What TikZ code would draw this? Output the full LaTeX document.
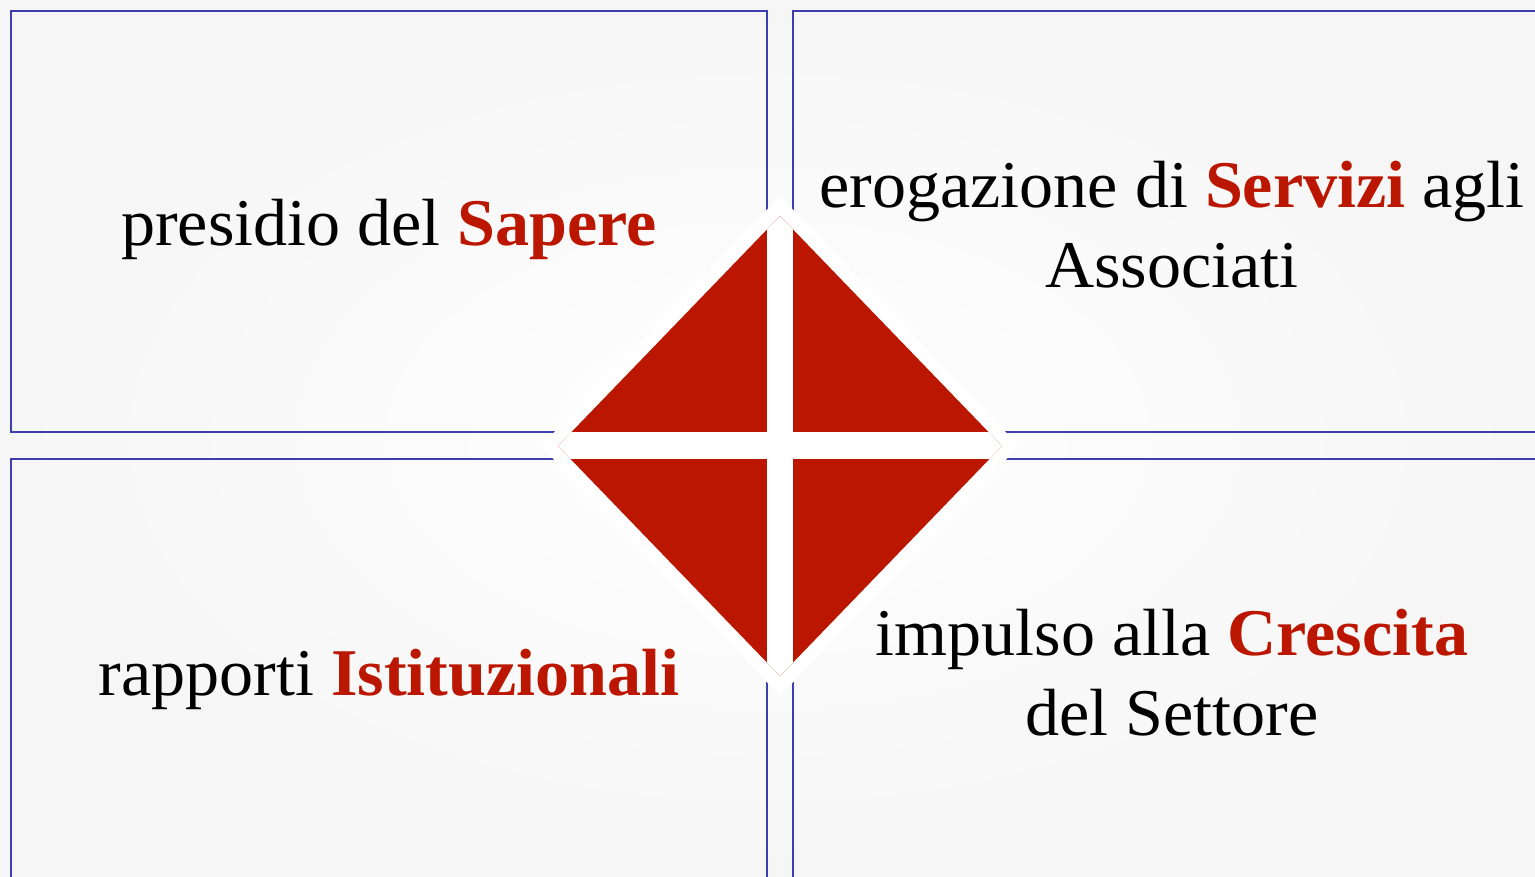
\documentclass[tikz,border=0pt]{standalone}
\usepackage{fontspec}
\setmainfont{Liberation Serif}[FakeStretch=1.02]
\definecolor{boxblue}{RGB}{62,62,172}
\definecolor{kwred}{RGB}{187,22,0}
\definecolor{pagegray}{RGB}{246,246,246}
\newcommand{\kw}[1]{\textbf{\color{kwred}#1}}

\begin{document}
\begin{tikzpicture}[x=0.02cm,y=-0.02cm,
    quadbox/.style={draw=boxblue,line width=1.1pt},
    quadtext/.style={anchor=base,inner sep=0pt,align=center,
      font=\fontsize{38}{45}\selectfont}]
    \shade[inner color=white,outer color=pagegray] (0,0) rectangle (1535,876);
    \useasboundingbox (0,0) rectangle (1535,876);
    % the four quadrants
    \foreach[count=\i] \bx/\by in {11/11,793/11,11/459,793/459} {
        \draw[quadbox] (\bx,\by) rectangle ++(756,421);
    }
    % diamond in the middle, with a white halo and a white cross
    \fill[white] (780,196) -- (1019,446) -- (780,696) -- (541,446) -- cycle;
    \fill[kwred] (780,216) -- (1002,446) -- (780,676) -- (558,446) -- cycle;
    \begin{scope}
        \clip (780,216) -- (1002,446) -- (780,676) -- (558,446) -- cycle;
        \fill[white] (767,196) rectangle (793,696);
        \fill[white] (541,432) rectangle (1019,459);
    \end{scope}
    \node[quadtext] (sapere) at (389,245) {presidio del \kw{Sapere}};
    \node[quadtext] (servizi) at (1172,287)
        {erogazione di \kw{Servizi} agli\\Associati};
    \node[quadtext] (istituz) at (389,695) {rapporti \kw{Istituzionali}};
    \node[quadtext] (crescita) at (1172,735)
        {impulso alla \kw{Crescita}\\del Settore};
\end{tikzpicture}
\end{document}
